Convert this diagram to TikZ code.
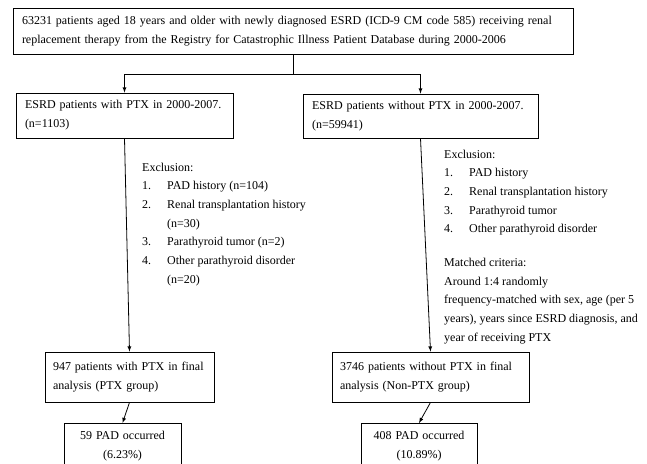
\documentclass[tikz,border=0pt]{standalone}
\usepackage{fontspec}
\setmainfont{Liberation Serif}
\begin{document}
\begin{tikzpicture}[x=1pt,y=-1pt]
\tikzset{boite/.style={draw, line width=0.8pt, inner xsep=9pt, inner ysep=0pt, align=left, font=\fontsize{12}{19}\selectfont}}
\tikzset{texte/.style={inner sep=0pt, anchor=north west, align=left, font=\fontsize{12}{18.7}\selectfont}}
\tikzset{fleche/.style={-latex, line width=0.8pt}}
\clip (0,0) rectangle (647,463);
\node[boite, text width=542pt, minimum height=46pt] (T) at (293,31) {63231 patients aged 18 years and older with newly diagnosed ESRD (ICD-9 CM code 585) receiving renal\\replacement therapy from the Registry for Catastrophic Illness Patient Database during 2000-2006};
\node[boite, text width=199pt, minimum height=45pt] (P1) at (124.5,115.5) {ESRD patients with PTX in 2000-2007.\\(n=1103)};
\node[boite, text width=217pt, minimum height=44pt] (P2) at (420.5,116) {ESRD patients without PTX in 2000-2007.\\(n=59941)};
\node[boite, inner xsep=8pt, text width=153pt, minimum height=50pt] (F1) at (129.5,377) {947 patients with PTX in final\\analysis (PTX group)};
\node[boite, inner xsep=8pt, text width=181pt, minimum height=50pt] (F2) at (430.5,377) {3746 patients without PTX in final\\analysis (Non-PTX group)};
\node[boite, align=center, anchor=north, inner ysep=8pt, text width=99pt] (R1) at (122.5,423) {59 PAD occurred\\(6.23\%)};
\node[boite, align=center, anchor=north, inner ysep=8pt, text width=98pt] (R2) at (419,423) {408 PAD occurred\\(10.89\%)};
\node[texte] (E1) at (142,162.5) {Exclusion:\\
\makebox[25pt][l]{1.}PAD history (n=104)\\
\makebox[25pt][l]{2.}Renal transplantation history\\
\hspace*{25pt}(n=30)\\
\makebox[25pt][l]{3.}Parathyroid tumor (n=2)\\
\makebox[25pt][l]{4.}Other parathyroid disorder\\
\hspace*{25pt}(n=20)};
\node[texte] (E2) at (444,149.5) {Exclusion:\\
\makebox[25pt][l]{1.}PAD history\\
\makebox[25pt][l]{2.}Renal transplantation history\\
\makebox[25pt][l]{3.}Parathyroid tumor\\
\makebox[25pt][l]{4.}Other parathyroid disorder\\[15pt]
Matched criteria:\\
Around 1:4 randomly\\
frequency-matched with sex, age (per 5\\
years), years since ESRD diagnosis, and\\
year of receiving PTX};
\coordinate (S) at (293,74);
\draw[line width=0.8pt] (T.south) -- (S);
\draw[fleche] (S) -| (P1.north);
\draw[fleche] (S) -| (P2.north);
\draw[fleche] (P1.south) -- (F1.north);
\draw[fleche] (P2.south) -- (F2.north);
\draw[fleche] (F1.south) -- (R1.north);
\draw[fleche] (F2.south) -- (R2.north);
\end{tikzpicture}
\end{document}
